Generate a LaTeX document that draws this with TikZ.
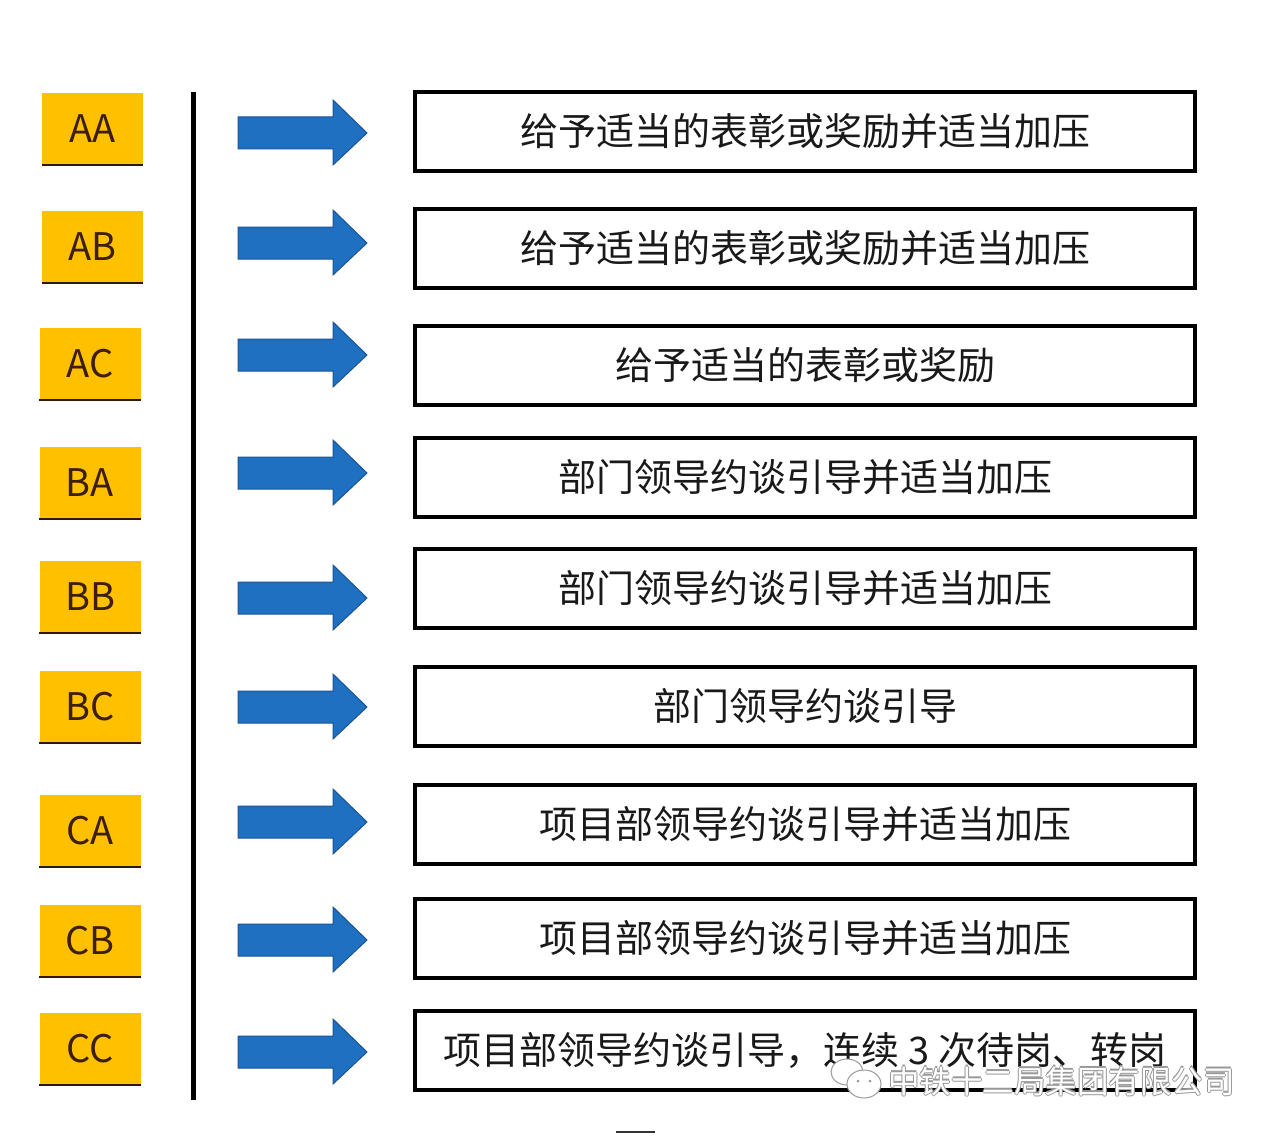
\documentclass[tikz,border=0pt]{standalone}
\usepackage{fontspec}
\newfontfamily\cjk{Noto Sans CJK SC}
\definecolor{lblorange}{RGB}{255,192,0}
\definecolor{lbltext}{RGB}{60,30,10}
\definecolor{arrowblue}{RGB}{31,112,193}
\definecolor{arrowedge}{RGB}{25,85,150}
\tikzset{
  lbl/.style={fill=lblorange, minimum width=101pt, minimum height=72pt, inner sep=0pt,
    text=lbltext, font=\cjk\fontsize{38}{42}\selectfont},
  resbox/.style={draw=black, line width=4pt, fill=white, minimum width=780pt, minimum height=79pt,
    inner sep=0pt, font=\cjk\fontsize{38}{42}\selectfont, text=black!90},
  blockarrow/.style={fill=arrowblue, draw=arrowedge, line width=1pt},
  wmark/.style={font=\cjk\fontsize{31.5}{36}\selectfont, anchor=west, inner sep=0pt}
}
\newcommand{\blockarr}[2]{% #1 = name, #2 = centre y
  \coordinate (#1) at (238,#2);
  \fill[blockarrow] (#1) ++(0,-16) -- ++(95,0) -- ++(0,-17) -- ++(34,33) -- ++(-34,32)
    -- ++(0,-16) -- ++(-95,0) -- cycle;
}
\begin{document}
\begin{tikzpicture}[x=1pt,y=-1pt]
\useasboundingbox (0,0) rectangle (1280,1137);
\fill[white] (0,0) rectangle (1280,1137);

% labels
\foreach \n/\t/\x/\y in {aa/AA/92.5/129, ab/AB/92.5/246.5, ac/AC/90/363.5, ba/BA/90/482.5,
  bb/BB/90/596.5, bc/BC/90/707, ca/CA/90/830.5, cb/CB/90/941, cc/CC/90/1049}{
  \node[lbl] (l\n) at (\x,\y) {\t};
  \draw[lbltext!80!black, line width=2pt] (l\n.south west) -- (l\n.south east);
}

% vertical divider
\coordinate (vtop) at (193,92);
\coordinate (vbot) at (193,1100);
\draw[line width=5pt] (vtop) -- (vbot);

% arrows
\blockarr{a1}{133}
\blockarr{a2}{243}
\blockarr{a3}{355}
\blockarr{a4}{473}
\blockarr{a5}{598}
\blockarr{a6}{707}
\blockarr{a7}{822}
\blockarr{a8}{940}
\blockarr{a9}{1052}

% result boxes
\node[resbox] (r1) at (805,131.5) {给予适当的表彰或奖励并适当加压};
\node[resbox] (r2) at (805,248) {给予适当的表彰或奖励并适当加压};
\node[resbox] (r3) at (805,365) {给予适当的表彰或奖励};
\node[resbox] (r4) at (805,477) {部门领导约谈引导并适当加压};
\node[resbox] (r5) at (805,588) {部门领导约谈引导并适当加压};
\node[resbox] (r6) at (805,706.5) {部门领导约谈引导};
\node[resbox] (r7) at (805,824) {项目部领导约谈引导并适当加压};
\node[resbox] (r8) at (805,938) {项目部领导约谈引导并适当加压};
\node[resbox] (r9) at (805,1050) {项目部领导约谈引导，连续 3 次待岗、转岗};

% watermark
\foreach \dx/\dy in {-1.2/0, 1.2/0, 0/-1.2, 0/1.2}{
  \node[wmark, text=gray!80] at (888+\dx,1081+\dy) {中铁十二局集团有限公司};
}
\node[wmark, text=white] (wm) at (888,1081) {中铁十二局集团有限公司};
\draw[gray!80, fill=white, line width=1pt] (847,1072) ellipse (16pt and 13pt);
\draw[gray!80, fill=white, line width=1pt] (864,1084) ellipse (17pt and 14pt);
\fill[gray!80] (858,1081) circle (1.5pt) (870,1081) circle (1.5pt);

% bottom fragment
\coordinate (f1) at (616,1132);
\coordinate (f2) at (655,1132);
\draw[line width=2.5pt, black!80] (f1) -- (f2);
\end{tikzpicture}
\end{document}
